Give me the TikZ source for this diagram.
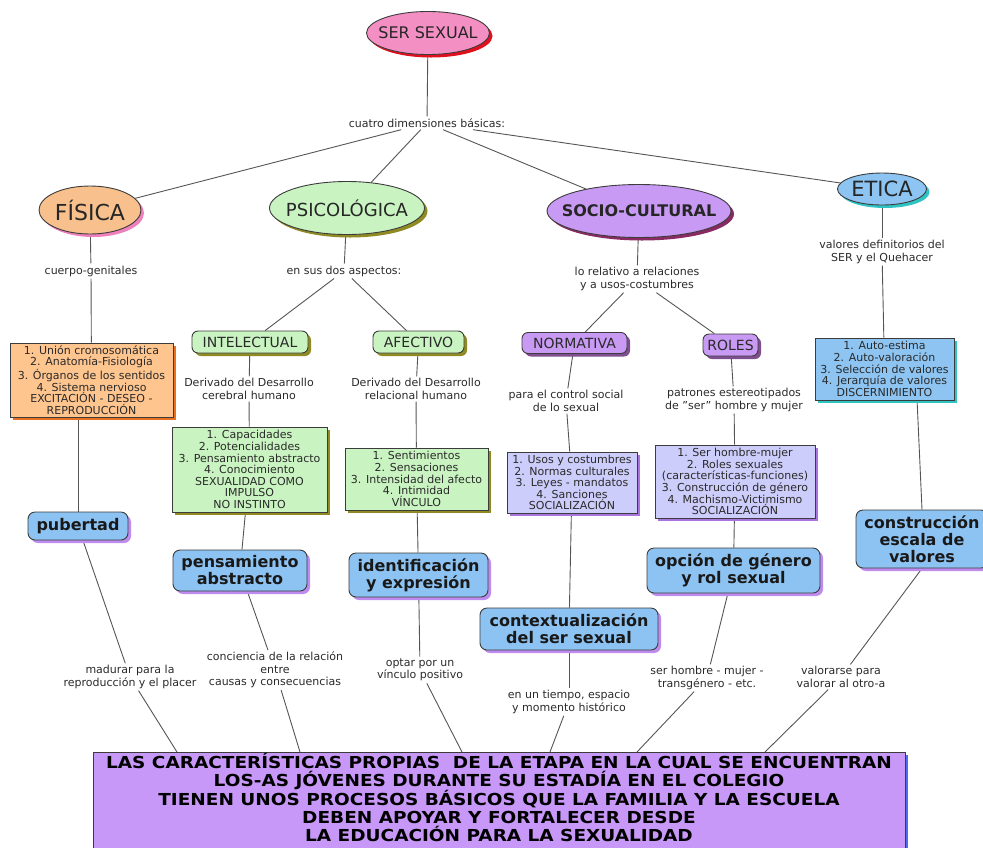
\documentclass[tikz,border=0pt]{standalone}
\usepackage{fontspec}
\setmainfont{DejaVu Sans}
\newfontfamily\bannerfamily{DejaVu Sans}[FakeStretch=1.12]
\usepackage{tikz}
\usetikzlibrary{shapes,shadows,backgrounds}
\definecolor{linegray}{HTML}{555555}
\definecolor{edgegray}{HTML}{3C3C3C}
\definecolor{textgray}{HTML}{2A2A2A}
\definecolor{serfill}{HTML}{F48FC4}
\definecolor{sershadow}{HTML}{E0101E}
\definecolor{fisfill}{HTML}{F8C08C}
\definecolor{fisshadow}{HTML}{EE80BC}
\definecolor{psifill}{HTML}{C9F4C1}
\definecolor{psishadow}{HTML}{8F8B22}
\definecolor{socfill}{HTML}{C89AF4}
\definecolor{socshadow}{HTML}{8A2A62}
\definecolor{etifill}{HTML}{8DC4F2}
\definecolor{etishadow}{HTML}{2EC4C4}
\definecolor{orangefill}{HTML}{FFC58F}
\definecolor{orangeshadow}{HTML}{E8701E}
\definecolor{lavfill}{HTML}{CDCDFB}
\definecolor{lavshadow}{HTML}{A974E0}
\definecolor{tagshadow}{HTML}{7E4E8E}
\definecolor{keyblue}{HTML}{8DC3F3}
\definecolor{keyshadow}{HTML}{C08BEE}
\definecolor{mainfill}{HTML}{C898F8}
\definecolor{mainshadow}{HTML}{4D6BEA}
\newcommand{\bannerfont}{\bannerfamily\bfseries\fontsize{16.5}{18.3}\selectfont\lineskiplimit=-20pt\relax}
\tikzset{castshadow/.style={drop shadow={shadow xshift=3pt,shadow yshift=-3pt,opacity=1,fill=#1}}}
\tikzstyle{conn}=[draw=linegray, line width=.9pt]
\tikzstyle{lbl}=[font=\fontsize{11}{12.3}\selectfont, text=textgray, align=center, inner sep=2pt]
\tikzstyle{oval}=[ellipse, draw=edgegray, line width=.9pt, inner sep=0pt, text=black!85]
\tikzstyle{listbox}=[rectangle, draw=edgegray, line width=.9pt, inner sep=0pt, align=center, text=textgray, font=\fontsize{11}{11.6}\selectfont]
\tikzstyle{tagbox}=[listbox, rounded corners=6pt, font=\fontsize{14}{16}\selectfont]
\tikzstyle{keybox}=[listbox, rounded corners=7pt, fill=keyblue, castshadow=keyshadow, text=black!90, font=\bfseries\fontsize{16}{17}\selectfont]

\begin{document}
\begin{tikzpicture}[x=1pt,y=-1pt]
	\useasboundingbox (0,0) rectangle (983,847);
	\node[oval, fill=serfill, castshadow=sershadow, minimum width=123pt, minimum height=43pt, font=\fontsize{16}{18}\selectfont] (ser) at (428,33) {\makebox[0pt]{SER SEXUAL}};
	\node[lbl] (dims) at (427,123) {cuatro dimensiones básicas:};
	\node[oval, fill=fisfill, castshadow=fisshadow, minimum width=102pt, minimum height=48pt, font=\fontsize{22}{24}\selectfont] (fis) at (90,210) {\makebox[0pt]{FÍSICA}};
	\node[oval, fill=psifill, castshadow=psishadow, minimum width=155pt, minimum height=53pt, font=\fontsize{18}{20}\selectfont] (psi) at (347,208) {\makebox[0pt]{PSICOLÓGICA}};
	\node[oval, fill=socfill, castshadow=socshadow, minimum width=184pt, minimum height=53pt, font=\bfseries\fontsize{16}{18}\selectfont] (soc) at (639,211) {\makebox[0pt]{SOCIO-CULTURAL}};
	\node[oval, fill=etifill, castshadow=etishadow, minimum width=89pt, minimum height=32pt, font=\fontsize{21}{23}\selectfont] (eti) at (882,189) {\makebox[0pt]{ETICA}};
	\node[lbl] (fislbl) at (91,271) {cuerpo-genitales};
	\node[lbl] (psilbl) at (344,271) {en sus dos aspectos:};
	\node[lbl] (soclbl) at (637,279) {lo relativo a relaciones\\y a usos-costumbres};
	\node[lbl] (etilbl) at (882,252) {valores definitorios del\\SER y el Quehacer};
	\node[listbox, fill=orangefill, castshadow=orangeshadow, minimum width=163pt, minimum height=74pt] (fisbox) at (91.5,380) {1. Unión cromosomática\\2. Anatomía-Fisiología\\3. Órganos de los sentidos\\4. Sistema nervioso\\EXCITACIÓN - DESEO -\\REPRODUCCIÓN};
	\node[keybox, minimum width=100pt, minimum height=28pt] (pub) at (78,526) {pubertad};
	\node[tagbox, fill=psifill, castshadow=psishadow, minimum width=116pt, minimum height=22pt] (intel) at (250,342) {INTELECTUAL};
	\node[tagbox, fill=psifill, castshadow=psishadow, minimum width=91pt, minimum height=22pt] (afect) at (418.5,342) {AFECTIVO};
	\node[lbl] (intellbl) at (249,389) {Derivado del Desarrollo\\cerebral humano};
	\node[lbl] (afectlbl) at (416,389) {Derivado del Desarrollo\\relacional humano};
	\node[listbox, fill=psifill, castshadow=psishadow, minimum width=155pt, minimum height=85pt] (intelbox) at (249.5,469.5) {1. Capacidades\\2. Potencialidades\\3. Pensamiento abstracto\\4. Conocimiento\\SEXUALIDAD COMO\\IMPULSO\\NO INSTINTO};
	\node[listbox, fill=psifill, castshadow=psishadow, minimum width=143pt, minimum height=62pt] (afectbox) at (416.5,479) {1. Sentimientos\\2. Sensaciones\\3. Intensidad del afecto\\4. Intimidad\\VÍNCULO};
	\node[keybox, minimum width=134pt, minimum height=41pt] (pens) at (240,570.5) {pensamiento\\abstracto};
	\node[keybox, minimum width=139pt, minimum height=44pt] (ident) at (418.5,575) {identificación\\y expresión};
	\node[tagbox, fill=socfill, castshadow=tagshadow, minimum width=105pt, minimum height=21pt] (norm) at (574.5,343) {NORMATIVA};
	\node[tagbox, fill=socfill, castshadow=tagshadow, minimum width=55pt, minimum height=22pt] (roles) at (730.5,345) {ROLES};
	\node[lbl] (normlbl) at (566,401) {para el control social\\de lo sexual};
	\node[lbl] (roleslbl) at (734,400) {patrones estereotipados\\de \symbol{34}ser\symbol{34} hombre y mujer};
	\node[listbox, fill=lavfill, castshadow=lavshadow, minimum width=130pt, minimum height=61pt] (normbox) at (572,482.5) {1. Usos y costumbres\\2. Normas culturales\\3. Leyes - mandatos\\4. Sanciones\\SOCIALIZACIÓN};
	\node[listbox, fill=lavfill, castshadow=lavshadow, minimum width=160pt, minimum height=73pt] (rolesbox) at (735,481.5) {1. Ser hombre-mujer\\2. Roles sexuales\\(características-funciones)\\3. Construcción de género\\4. Machismo-Victimismo\\SOCIALIZACIÓN};
	\node[keybox, minimum width=178pt, minimum height=42pt] (context) at (569,629) {contextualización\\del ser sexual};
	\node[keybox, minimum width=173pt, minimum height=45pt] (opcion) at (733.5,570.5) {opción de género\\y rol sexual};
	\node[listbox, fill=etifill, castshadow=etishadow, minimum width=139pt, minimum height=62pt] (etibox) at (884.5,369) {1. Auto-estima\\2. Auto-valoración\\3. Selección de valores\\4. Jerarquía de valores\\DISCERNIMIENTO};
	\node[keybox, minimum width=132pt, minimum height=58pt] (constr) at (922,539) {construcción\\escala de\\valores};
	\node[lbl] (madlbl) at (130,677) {madurar para la\\reproducción y el placer};
	\node[lbl] (conclbl) at (275,670) {conciencia de la relación\\entre\\causas y consecuencias};
	\node[lbl] (optlbl) at (420,670) {optar por un\\vínculo positivo};
	\node[lbl] (tiempolbl) at (569,702) {en un tiempo, espacio\\y momento histórico};
	\node[lbl] (serlbl) at (707,678) {ser hombre - mujer -\\transgénero - etc.};
	\node[lbl] (vallbl) at (841,677) {valorarse para\\valorar al otro-a};
	\node[rectangle, draw=edgegray, line width=.9pt, fill=mainfill, castshadow=mainshadow, minimum width=812pt, minimum height=98pt, inner sep=0pt, text depth=7pt, align=center, font=\bannerfont] (main) at (499,801) {LAS CARACTERÍSTICAS PROPIAS\ \ DE LA ETAPA EN LA CUAL SE ENCUENTRAN\\LOS-AS JÓVENES DURANTE SU ESTADÍA EN EL COLEGIO\\TIENEN UNOS PROCESOS BÁSICOS QUE LA FAMILIA Y LA ESCUELA\\DEBEN APOYAR Y FORTALECER DESDE\\LA EDUCACIÓN PARA LA SEXUALIDAD};
	\coordinate (m1) at (177,752);
	\coordinate (m2) at (300,752);
	\coordinate (m3) at (462,752);
	\coordinate (m4) at (550,752);
	\coordinate (m5) at (637,752);
	\coordinate (m6) at (765,752);
	\begin{scope}[on background layer]
	\draw[conn] (ser) -- (dims);
	\draw[conn] (dims) -- (fis);
	\draw[conn] (dims) -- (psi);
	\draw[conn] (dims) -- (soc);
	\draw[conn] (dims) -- (eti);
	\draw[conn] (fis) -- (fislbl);
	\draw[conn] (fislbl) -- (fisbox);
	\draw[conn] (fisbox.south -| pub) -- (pub);
	\draw[conn] (pub) -- (madlbl);
	\draw[conn] (madlbl) -- (m1);
	\draw[conn] (psi) -- (psilbl);
	\draw[conn] (psilbl) -- (intel);
	\draw[conn] (psilbl) -- (afect);
	\draw[conn] (intel) -- (intellbl);
	\draw[conn] (intellbl) -- (intelbox);
	\draw[conn] (intelbox) -- (pens);
	\draw[conn] (pens) -- (conclbl);
	\draw[conn] (conclbl) -- (m2);
	\draw[conn] (afect) -- (afectlbl);
	\draw[conn] (afectlbl) -- (afectbox);
	\draw[conn] (afectbox) -- (ident);
	\draw[conn] (ident) -- (optlbl);
	\draw[conn] (optlbl) -- (m3);
	\draw[conn] (soc) -- (soclbl);
	\draw[conn] (soclbl) -- (norm);
	\draw[conn] (soclbl) -- (roles);
	\draw[conn] (norm) -- (normlbl);
	\draw[conn] (normlbl) -- (normbox);
	\draw[conn] (normbox) -- (context);
	\draw[conn] (context) -- (tiempolbl);
	\draw[conn] (tiempolbl) -- (m4);
	\draw[conn] (roles) -- (roleslbl);
	\draw[conn] (roleslbl) -- (rolesbox);
	\draw[conn] (rolesbox) -- (opcion);
	\draw[conn] (opcion) -- (serlbl);
	\draw[conn] (serlbl) -- (m5);
	\draw[conn] (eti) -- (etilbl);
	\draw[conn] (etilbl) -- (etibox);
	\draw[conn] (etibox.-44) -- (constr.north);
	\draw[conn] (constr.south) -- (vallbl);
	\draw[conn] (vallbl) -- (m6);
	\end{scope}
\end{tikzpicture}
\end{document}
